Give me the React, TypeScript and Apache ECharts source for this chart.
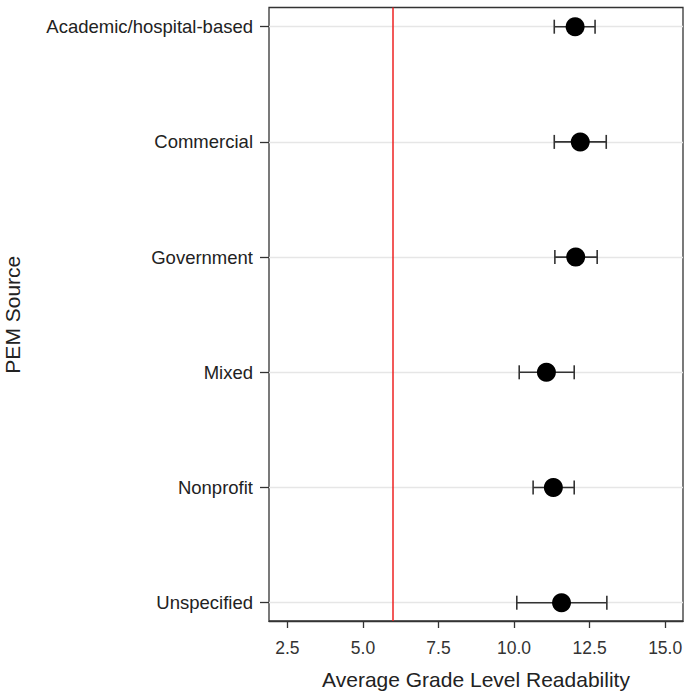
import React, { useEffect, useRef } from "react";
import * as echarts from "echarts";

const categories = [
  "Academic/hospital-based",
  "Commercial",
  "Government",
  "Mixed",
  "Nonprofit",
  "Unspecified",
];
const means = [12.02, 12.19, 12.04, 11.07, 11.3, 11.57];
const lower = [11.33, 11.33, 11.35, 10.17, 10.63, 10.09];
const upper = [12.68, 13.05, 12.75, 11.99, 11.99, 13.07];
const xTicks = [2.5, 5.0, 7.5, 10.0, 12.5, 15.0];
const referenceLine = 6.0;

const X_MIN = 1.89;
const X_MAX = 15.59;
const FONT = "'Liberation Sans', Arial, sans-serif";

export default function App() {
  const ref = useRef<HTMLDivElement>(null);
  useEffect(() => {
    if (!ref.current) return;
    const chart = echarts.init(ref.current, undefined, { renderer: "svg" });
    const left = 269;
    const right = 5;
    const outerTop = 7.5;
    const outerBottom = 76;
    const rowTop = 26.7;
    const rowBottom = 94.3;
    chart.setOption({
      animation: false,
      backgroundColor: "#ffffff",
      textStyle: { fontFamily: FONT },
      grid: [
        {
          left,
          right,
          top: outerTop,
          bottom: outerBottom,
          outerBoundsMode: "none",
          containLabel: false,
          show: true,
          borderColor: "#333333",
          borderWidth: 1.3,
          backgroundColor: "transparent",
        },
        {
          left,
          right,
          top: rowTop,
          bottom: rowBottom,
          outerBoundsMode: "none",
          containLabel: false,
        },
      ],
      xAxis: [
        {
          type: "value",
          gridIndex: 0,
          min: X_MIN,
          max: X_MAX,
          name: "Average Grade Level Readability",
          nameLocation: "middle",
          nameGap: 48,
          nameTextStyle: { fontSize: 21, color: "#222", fontFamily: FONT },
          axisLine: { show: true, lineStyle: { color: "#333", width: 1.3 } },
          axisTick: {
            show: true,
            length: 7,
            customValues: xTicks,
            lineStyle: { color: "#333", width: 1.3 },
          },
          axisLabel: {
            customValues: xTicks,
            formatter: (v: number) => v.toFixed(1),
            fontSize: 17.5,
            color: "#333",
            margin: 18,
            fontFamily: FONT,
          },
          splitLine: { show: false },
        },
        {
          type: "value",
          gridIndex: 1,
          min: X_MIN,
          max: X_MAX,
          show: false,
          splitLine: { show: false },
        },
      ],
      yAxis: [
        {
          type: "value",
          gridIndex: 0,
          show: false,
          splitLine: { show: false },
        },
        {
          type: "category",
          gridIndex: 1,
          data: categories,
          inverse: true,
          boundaryGap: false,
          name: "PEM Source",
          nameLocation: "middle",
          nameGap: 246,
          nameTextStyle: { fontSize: 21, color: "#222", fontFamily: FONT },
          axisLine: { show: false },
          axisTick: {
            show: true,
            length: 9,
            alignWithLabel: true,
            lineStyle: { color: "#333", width: 1.3 },
          },
          axisLabel: {
            fontSize: 18.5,
            color: "#222",
            margin: 16,
            fontFamily: FONT,
          },
          splitLine: { show: true, lineStyle: { color: "#e6e6e6", width: 1.3 } },
        },
      ],
      series: [
        {
          type: "custom",
          xAxisIndex: 1,
          yAxisIndex: 1,
          data: categories.map((_, i) => [lower[i], upper[i], i]),
          encode: { x: [0, 1], y: 2 },
          renderItem: (params: any, api: any) => {
            const lo = api.coord([api.value(0), api.value(2)]);
            const hi = api.coord([api.value(1), api.value(2)]);
            const cap = 7;
            const style = { stroke: "#333333", lineWidth: 1.6 };
            return {
              type: "group",
              children: [
                { type: "line", shape: { x1: lo[0], y1: lo[1], x2: hi[0], y2: hi[1] }, style },
                { type: "line", shape: { x1: lo[0], y1: lo[1] - cap, x2: lo[0], y2: lo[1] + cap }, style },
                { type: "line", shape: { x1: hi[0], y1: hi[1] - cap, x2: hi[0], y2: hi[1] + cap }, style },
              ],
            };
          },
          z: 2,
        },
        {
          type: "scatter",
          xAxisIndex: 1,
          yAxisIndex: 1,
          data: categories.map((c, i) => [means[i], i]),
          symbol: "circle",
          symbolSize: 19,
          itemStyle: { color: "#000000", opacity: 1 },
          z: 3,
        },
        {
          type: "line",
          xAxisIndex: 0,
          yAxisIndex: 0,
          data: [],
          markLine: {
            silent: true,
            symbol: "none",
            label: { show: false },
            lineStyle: { color: "#ee2222", width: 1.5, type: "solid" },
            data: [{ xAxis: referenceLine }],
          },
        },
      ],
    });
    return () => chart.dispose();
  }, []);
  return (
    <div
      ref={ref}
      style={{ position: "fixed", left: 0, top: 0, width: 688, height: 697, background: "#fff" }}
    />
  );
}
